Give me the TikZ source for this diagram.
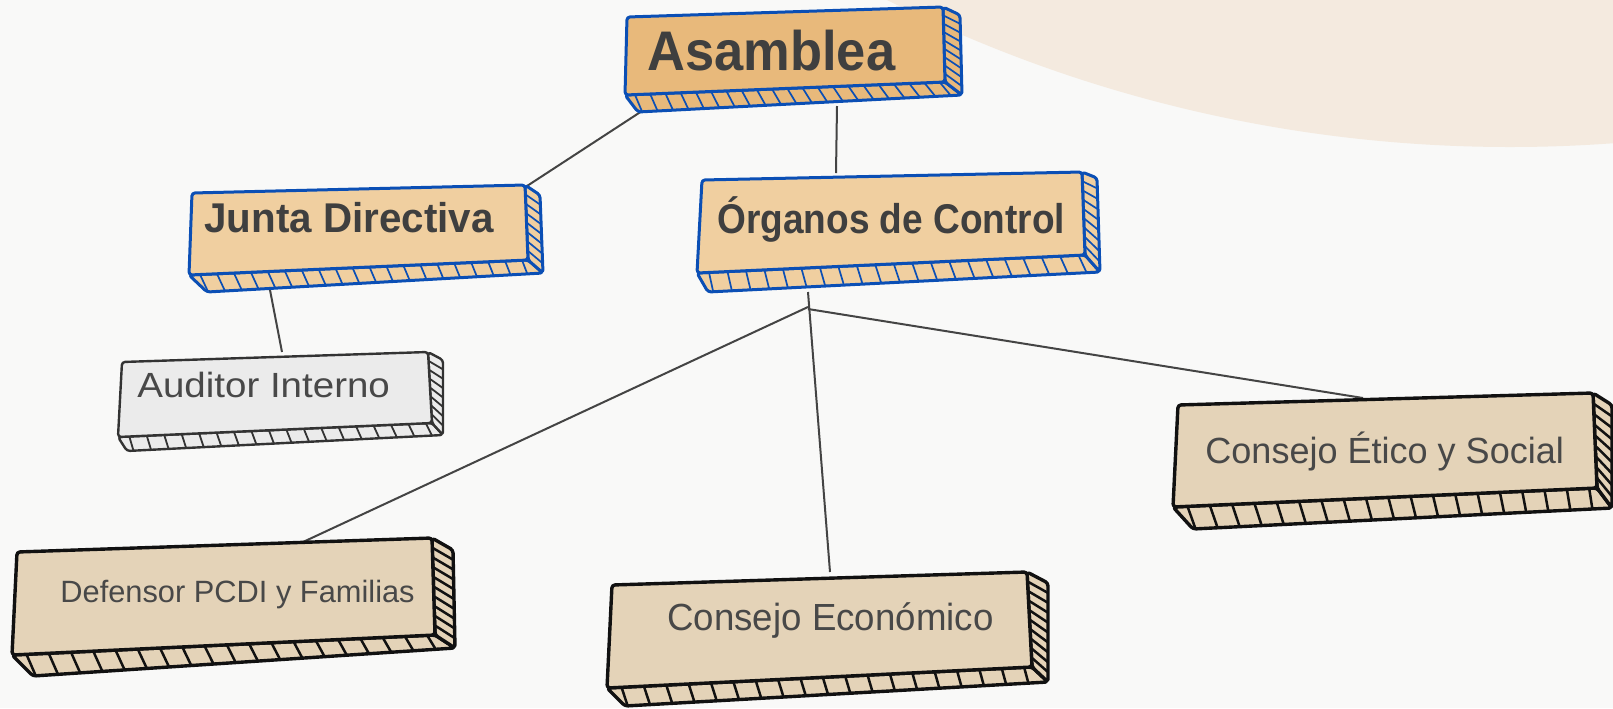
\documentclass[tikz,border=0pt]{standalone}
\usepackage{fontspec}
\setmainfont{Liberation Sans}
\usetikzlibrary{calc}
\definecolor{bgcol}{HTML}{F9F9F8}
\definecolor{blobcol}{HTML}{F4EADF}
\definecolor{asmfill}{HTML}{E8B97B}
\definecolor{midfill}{HTML}{F0CFA0}
\definecolor{bluestroke}{HTML}{0B4FB5}
\definecolor{greyfill}{HTML}{EBEBEB}
\definecolor{greystroke}{HTML}{333333}
\definecolor{beigefill}{HTML}{E4D3B8}
\definecolor{blackstroke}{HTML}{111111}
\definecolor{txtdark}{HTML}{3F3F3F}
\definecolor{txtgray}{HTML}{484848}
\definecolor{linkcol}{HTML}{444444}
\tikzset{
  bluebox/.style={line join=round, line cap=round, rounded corners=1.5pt, draw=bluestroke, line width=1.5pt},
  bluehatch/.style={draw=bluestroke, line width=0.85pt},
  greybox/.style={line join=round, line cap=round, rounded corners=1.5pt, draw=greystroke, line width=1.2pt},
  greyhatch/.style={draw=greystroke, line width=0.9pt},
  blackbox/.style={line join=round, line cap=round, rounded corners=1.5pt, draw=blackstroke, line width=1.7pt},
  blackhatch/.style={draw=blackstroke, line width=1.25pt},
  link/.style={draw=linkcol, line width=1pt},
  boldlabel/.style={inner sep=0pt, anchor=base west, text=txtdark, font=\bfseries\fontsize{20.8pt}{24pt}\selectfont},
  leaflabel/.style={inner sep=0pt, anchor=base west, text=txtgray},
}
% #1 prefix, #2 face style, #3 hatch style, #4 bottom hatches, #5 right hatches, #6 x shift of lower hatch end, #7 fill colour
\newcommand{\blockbox}[7]{%
  \filldraw[#2, fill=#7] (#1-BL) -- (#1-BR) -- (#1-BRd) -- (#1-BLd) -- cycle;
  \filldraw[#2, fill=#7] (#1-TR) -- (#1-TRd) -- (#1-BRd) -- (#1-BR) -- cycle;
  \foreach \hi in {1,...,#4} {
    \pgfmathsetmacro\hpos{(\hi-0.35)/#4}
    \draw[#3] ($(#1-BL)!\hpos!(#1-BR)$) -- ($(#1-BLd)!\hpos!(#1-BRd)+(#6,0)$);
  }
  \foreach \hj in {1,...,#5} {
    \pgfmathsetmacro\hpos{\hj/(#5+1)}
    \draw[#3] ($(#1-TR)!\hpos!(#1-BR)$) -- ($(#1-TRd)!\hpos!(#1-BRd)$);
  }
  \filldraw[#2, fill=#7] (#1-TL) -- (#1-TR) -- (#1-BR) -- (#1-BL) -- cycle;
}
\newcommand{\boxpoints}[8]{%
  \coordinate (#1-TL) at #2; \coordinate (#1-TR) at #3;
  \coordinate (#1-BR) at #4; \coordinate (#1-BL) at #5;
  \coordinate (#1-TRd) at #6; \coordinate (#1-BRd) at #7;
  \coordinate (#1-BLd) at #8;
}
\begin{document}
\begin{tikzpicture}[x=0.5pt,y=-0.5pt]
\useasboundingbox (0,0) rectangle (1613,708);
\fill[bgcol] (0,0) rectangle (1613,708);
\begin{scope}
  \clip (0,0) rectangle (1613,708);
  \fill[blobcol] (1510,-1243) circle[radius=695pt];
\end{scope}

% box geometry
\boxpoints{asmb}{(627,17)}{(943,7)}{(945,82)}{(625,95)}{(960,15)}{(962,95)}{(638,112)}
\boxpoints{jdb}{(192,193)}{(525,185)}{(528,260)}{(189,275)}{(540,195)}{(543,273)}{(207,292)}
\boxpoints{ocb}{(702,180)}{(1082,172)}{(1085,255)}{(697,273)}{(1097,178)}{(1100,272)}{(708,292)}
\boxpoints{aib}{(122,362)}{(428,352)}{(432,423)}{(118,437)}{(443,360)}{(443,435)}{(127,451)}
\boxpoints{cesb}{(1178,405)}{(1593,393)}{(1597,488)}{(1173,507)}{(1612,405)}{(1612,508)}{(1193,529)}
\boxpoints{dpfb}{(17,552)}{(432,538)}{(435,635)}{(12,655)}{(453,550)}{(455,648)}{(33,676)}
\boxpoints{cecb}{(612,585)}{(1027,572)}{(1032,667)}{(607,688)}{(1048,583)}{(1048,682)}{(625,706)}

% connector ends
\coordinate (asmL) at (642,111);
\coordinate (asmB) at (837,106);
\coordinate (jdR) at (527,186);
\coordinate (ocT) at (836,173);
\coordinate (jdB) at (270,290);
\coordinate (aiT) at (282,352);
\coordinate (ocB) at (808,292);
\coordinate (ocJa) at (808,307);
\coordinate (ocJb) at (808,309);
\coordinate (cecT) at (830,572);
\coordinate (dpfT) at (303,542);
\coordinate (cesT) at (1363,398);

\draw[link] (asmL) -- (jdR);
\draw[link] (asmB) -- (ocT);
\draw[link] (jdB) -- (aiT);
\draw[link] (ocB) -- (cecT);
\draw[link] (ocJa) -- (dpfT);
\draw[link] (ocJb) -- (cesT);

% boxes
\blockbox{asmb}{bluebox}{bluehatch}{21}{8}{-6}{asmfill}
\blockbox{jdb}{bluebox}{bluehatch}{20}{7}{-10}{midfill}
\blockbox{ocb}{bluebox}{bluehatch}{21}{8}{-7}{midfill}
\blockbox{aib}{greybox}{greyhatch}{18}{7}{-5}{greyfill}
\blockbox{cesb}{blackbox}{blackhatch}{19}{8}{-12}{beigefill}
\blockbox{dpfb}{blackbox}{blackhatch}{19}{9}{-12}{beigefill}
\blockbox{cecb}{blackbox}{blackhatch}{19}{9}{-12}{beigefill}

% labels
\node[boldlabel, font=\bfseries\fontsize{27.9pt}{32pt}\selectfont] (asm) at (647,70) {\scalebox{0.94}[1]{Asamblea}};
\node[boldlabel] (jd) at (204,232) {\scalebox{0.97}[1]{Junta Directiva}};
\node[boldlabel] (oc) at (717,233) {\scalebox{0.89}[1]{Órganos de Control}};
\node[leaflabel, font=\fontsize{17.5pt}{20pt}\selectfont] (ai) at (137,397) {\scalebox{1.1}[1]{Auditor Interno}};
\node[leaflabel, font=\fontsize{18.2pt}{21pt}\selectfont] (ces) at (1205,463) {\scalebox{0.99}[1]{Consejo Ético y Social}};
\node[leaflabel, font=\fontsize{15.4pt}{18pt}\selectfont] (dpf) at (60,602) {Defensor PCDI y Familias};
\node[leaflabel, font=\fontsize{18.9pt}{22pt}\selectfont] (cec) at (667,630) {\scalebox{0.97}[1]{Consejo Económico}};
\end{tikzpicture}
\end{document}
